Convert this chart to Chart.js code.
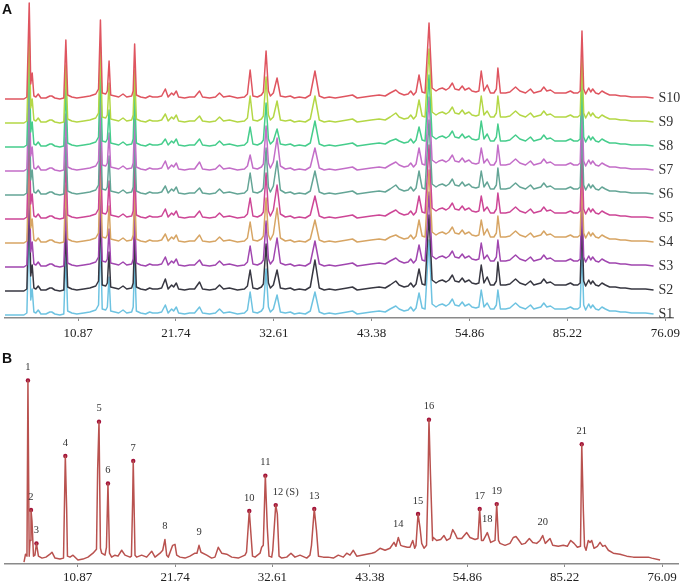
<!DOCTYPE html>
<html><head><meta charset="utf-8">
<script src="https://cdn.jsdelivr.net/npm/chart.js@4.4.0/dist/chart.umd.min.js"></script>
<style>
html,body{margin:0;padding:0;background:#fff;}
#wrap{position:relative;width:685px;height:585px;overflow:hidden;background:#fff;}
.panel{position:absolute;left:0;width:685px;}
#boxA{top:0;height:345px;}
#boxB{top:345px;height:240px;}
.tag{position:absolute;font:bold 14px "Liberation Sans",Arial,sans-serif;color:#111;line-height:14px;}
</style></head>
<body><div id="wrap">
<div class="panel" id="boxA"><canvas id="chartA"></canvas></div>
<div class="panel" id="boxB"><canvas id="chartB"></canvas></div>
<div class="tag" style="left:2px;top:2px">A</div>
<div class="tag" style="left:2px;top:351px">B</div>
</div>
<script>
// ---- x axis ticks (retention time, min) ----
const tickValues = [10.87, 21.74, 32.61, 43.48, 54.35, 65.22, 76.09];
const tickLabels = ['10.87', '21.74', '32.61', '43.38', '54.86', '85.22', '76.09'];

// ---- Panel A: ten sample chromatograms ----
const sampleNames = ['S1','S2','S3','S4','S5','S6','S7','S8','S9','S10'];
const retentionTimesA = [2.75,4.85,5.18,5.44,5.61,5.77,5.96,6.18,6.44,6.74,
7.29,7.73,7.95,8.29,8.84,9.28,9.51,9.71,10.17,10.73,
11.50,12.17,12.83,13.14,13.35,13.55,13.94,14.12,14.31,14.49,
14.94,15.38,15.86,16.27,16.82,16.99,17.15,17.34,17.82,18.37,
18.82,19.15,19.70,20.15,20.56,20.87,21.26,21.48,21.78,22.03,
22.70,23.25,23.81,24.36,24.69,25.47,26.13,26.58,27.02,27.68,
28.57,29.35,29.68,29.98,30.29,30.79,31.23,31.45,31.75,32.01,
32.23,32.56,32.97,33.34,33.89,34.45,34.89,35.44,36.11,36.66,
37.18,37.66,38.21,38.77,39.43,40.10,40.76,41.35,41.87,42.65,
43.42,44.31,44.98,45.53,46.16,46.53,47.08,47.53,47.82,48.13,
48.41,48.74,49.08,49.41,49.85,50.19,50.63,50.96,51.33,51.74,
52.07,52.44,52.73,53.18,53.54,53.84,54.29,54.62,55.06,55.39,
55.65,55.95,56.31,56.67,57.06,57.33,57.50,57.78,58.35,58.83,
59.46,59.94,60.57,61.12,61.49,61.86,62.27,62.60,62.93,63.34,
63.82,64.63,65.04,65.56,65.92,66.37,66.64,66.84,67.03,67.25,
67.59,67.81,68.03,68.36,68.70,69.06,69.44,69.91,70.55,71.13,
71.65,72.35,73.13,73.90,74.79];

const S1 = [6,6,10,194,36,58,12,10,16,8, 8,12,12,8,6,8,126,14,10,8, 10,12,16,26,162,18,16,22,82,14, 12,10,16,10,12,22,116,14,10,8, 12,10,10,12,26,10,18,14,22,10, 8,10,10,22,10,8,10,18,10,12, 8,10,16,52,12,10,14,20,98,22, 12,18,46,12,10,12,8,10,8,14, 52,12,8,10,8,10,12,14,8,10, 12,14,12,18,24,18,14,16,22,14, 20,50,20,18,156,28,22,26,28,24, 28,38,26,24,32,24,28,22,20,22, 56,22,30,18,18,26,56,18,18,20, 30,22,18,26,18,20,22,30,22,24, 18,18,18,22,18,18,22,140,26,16, 28,20,26,18,16,22,18,14,14,12, 12,10,10,10,8];
const S2 = [6,6,10,196,36,58,12,10,16,8, 8,12,12,8,6,8,126,14,10,8, 10,12,16,26,164,18,16,22,84,14, 12,10,16,10,12,22,116,14,10,8, 12,10,10,12,30,10,18,14,22,10, 8,10,10,24,10,8,10,18,10,12, 8,10,16,48,12,10,14,20,100,22, 12,18,48,12,10,12,8,10,8,14, 68,12,8,10,8,10,12,14,8,10, 12,14,12,18,26,18,14,16,22,14, 20,50,20,18,158,28,22,26,28,24, 28,38,26,24,32,24,28,22,20,22, 58,22,34,18,18,26,64,18,18,20, 30,22,18,26,18,20,22,30,22,24, 18,18,18,22,18,18,22,142,26,16, 28,20,26,18,16,22,18,14,14,12, 12,10,10,10,8];
const S3 = [6,6,10,190,36,56,12,10,16,8, 8,12,12,8,6,8,124,14,10,8, 10,12,16,26,162,18,16,22,82,14, 12,10,16,10,12,22,114,14,10,8, 12,10,10,12,26,10,18,14,22,10, 8,10,10,20,10,8,10,18,10,12, 8,10,16,48,12,10,14,20,98,22, 12,20,64,14,10,12,8,10,8,14, 58,12,8,10,8,10,12,14,8,10, 12,14,12,18,24,18,14,16,22,14, 20,50,20,18,156,28,22,26,28,24, 28,38,26,24,32,24,28,22,20,22, 54,22,30,18,18,26,60,18,18,20, 30,22,18,26,18,20,22,30,22,24, 18,18,18,22,18,18,22,138,26,16, 28,20,26,18,16,22,18,14,14,12, 12,10,10,10,8];
const S4 = [6,6,10,188,36,54,12,10,16,8, 8,12,12,8,6,8,122,14,10,8, 10,12,16,26,158,18,16,22,80,14, 12,10,16,10,12,22,112,14,10,8, 12,10,10,12,24,10,18,14,22,10, 8,10,10,22,10,8,10,18,10,12, 8,10,16,48,12,10,14,20,96,22, 12,24,76,16,10,12,8,10,8,14, 52,12,8,10,8,10,12,14,8,10, 12,14,12,18,22,18,14,16,22,14, 20,52,20,18,152,28,22,26,28,24, 28,38,26,24,32,24,28,22,20,22, 52,22,34,18,18,26,60,18,18,20, 30,22,18,26,18,20,22,30,22,24, 18,18,18,22,18,18,22,136,26,16, 28,20,26,18,16,22,18,14,14,12, 12,10,10,10,8];
const S5 = [6,6,10,192,36,56,12,10,16,8, 8,12,12,8,6,8,124,14,10,8, 10,12,16,26,160,18,16,22,82,14, 12,10,16,10,12,22,114,14,10,8, 12,10,10,12,26,10,18,14,22,10, 8,10,10,22,10,8,10,18,10,12, 8,10,16,48,12,10,14,20,98,22, 12,24,74,16,10,12,8,10,8,14, 52,12,8,10,8,10,12,14,8,10, 12,14,12,18,24,18,14,16,22,14, 20,52,20,18,154,28,22,26,28,24, 28,38,26,24,32,24,28,22,20,22, 52,22,30,18,18,26,58,18,18,20, 30,22,18,26,18,20,22,30,22,24, 18,18,18,22,18,18,22,138,26,16, 28,20,26,18,16,22,18,14,14,12, 12,10,10,10,8];
const S6 = [6,6,10,194,36,56,12,10,16,8, 8,12,12,8,6,8,122,14,10,8, 10,12,16,26,162,18,16,22,84,14, 12,10,16,10,12,22,116,14,10,8, 12,10,10,12,24,10,18,14,22,10, 8,10,10,20,10,8,10,18,10,12, 8,10,16,50,12,10,14,20,100,22, 12,24,74,16,10,12,8,10,8,14, 54,12,8,10,8,10,12,14,8,10, 12,14,12,18,26,18,14,16,22,14, 20,54,20,18,156,28,22,26,28,24, 28,38,26,24,32,24,28,22,20,22, 54,22,32,18,18,26,60,18,18,20, 30,22,18,26,18,20,22,30,22,24, 18,18,18,22,18,18,22,140,26,16, 28,20,26,18,16,22,18,14,14,12, 12,10,10,10,8];
const S7 = [6,6,10,186,36,54,12,10,16,8, 8,12,12,8,6,8,120,14,10,8, 10,12,16,26,156,18,16,22,82,14, 12,10,16,10,12,22,110,14,10,8, 12,10,10,12,26,10,18,14,22,10, 8,10,10,24,10,8,10,18,10,12, 8,10,16,38,12,10,14,20,96,22, 12,24,72,16,10,12,8,10,8,14, 52,12,8,10,8,10,12,14,8,10, 12,14,12,18,24,18,14,16,22,14, 20,52,20,18,154,28,22,26,28,24, 28,38,26,24,32,24,28,22,20,22, 52,22,30,18,18,26,58,18,18,20, 30,22,18,26,18,20,22,30,22,24, 18,18,18,22,18,18,22,138,26,16, 28,20,26,18,16,22,18,14,14,12, 12,10,10,10,8];
const S8 = [6,6,10,190,36,56,12,10,16,8, 8,12,12,8,6,8,126,14,10,8, 10,12,16,26,160,18,16,22,80,14, 12,10,16,10,12,22,114,14,10,8, 12,10,10,12,22,10,18,14,22,10, 8,10,10,22,10,8,10,18,10,12, 8,10,16,46,12,10,14,20,94,22, 12,18,42,12,10,12,8,10,8,14, 58,12,8,10,8,10,12,14,8,10, 12,14,12,18,22,18,14,16,22,14, 20,46,20,18,150,28,22,26,28,24, 28,38,26,24,32,24,28,22,20,22, 58,22,32,18,18,26,52,18,18,20, 30,22,18,26,18,20,22,30,22,24, 18,18,18,22,18,18,22,134,26,16, 28,20,26,18,16,22,18,14,14,12, 12,10,10,10,8];
const S9 = [6,6,10,186,36,54,12,10,16,8, 8,12,12,8,6,8,122,14,10,8, 10,12,16,26,158,18,16,22,86,14, 12,10,16,10,12,22,112,14,10,8, 12,10,10,12,24,10,18,14,22,10, 8,10,10,20,10,8,10,18,10,12, 8,10,16,60,12,10,14,20,98,22, 12,18,50,12,10,12,8,10,8,14, 60,12,8,10,8,10,12,14,8,10, 12,14,12,18,26,18,14,16,22,14, 20,52,20,18,154,28,22,26,28,24, 28,38,26,24,32,24,28,22,20,22, 60,22,30,18,18,26,60,18,18,20, 30,22,18,26,18,20,22,30,22,24, 18,18,18,22,18,18,22,136,26,16, 28,20,26,18,16,22,18,14,14,12, 12,10,10,10,8];
const S10 = [6,6,10,198,36,58,12,10,16,8, 8,12,12,8,6,8,124,14,10,8, 10,12,16,26,164,18,16,22,82,14, 12,10,16,10,12,22,116,14,10,8, 12,10,10,12,26,10,18,14,22,10, 8,10,10,22,10,8,10,18,10,12, 8,10,16,64,12,10,14,20,102,22, 12,18,48,12,10,12,8,10,8,14, 62,12,8,10,8,10,12,14,8,10, 12,14,12,18,24,18,14,16,22,14, 20,54,20,18,158,28,22,26,28,24, 28,38,26,24,32,24,28,22,20,22, 62,22,34,18,18,26,68,18,18,20, 30,22,18,26,18,20,22,30,22,24, 18,18,18,22,18,18,22,142,26,16, 28,20,26,18,16,22,18,14,14,12, 12,10,10,10,8];
const sampleValues = [S1, S2, S3, S4, S5, S6, S7, S8, S9, S10];

// ---- Panel B: reference fingerprint ----
const retentionTimesB = [4.88,5.05,5.21,5.32,5.46,5.55,5.66,5.77,5.94,6.10,6.27,6.49,6.89,7.33,7.78,8.00,8.34,8.89,9.29,9.49,
9.64,9.73,10.01,10.35,10.90,11.46,12.02,12.58,12.97,13.10,13.25,13.41,13.55,13.92,14.08,14.25,14.42,14.66,15.03,15.37,
15.78,16.15,16.71,16.87,17.01,17.07,17.27,17.45,18.01,18.57,19.13,19.50,20.06,20.36,20.61,20.80,20.98,21.47,21.73,21.92,
22.29,22.85,23.40,23.96,24.18,24.41,24.63,25.27,25.82,26.19,26.56,26.94,27.50,28.06,28.79,29.54,29.71,30.02,30.38,30.66,
31.22,31.40,31.58,31.81,32.03,32.22,32.52,32.64,32.97,33.15,33.34,33.64,34.20,34.67,35.12,35.68,36.43,36.79,36.96,37.27,
37.52,37.74,38.28,38.80,39.40,39.95,40.51,40.89,41.26,41.63,42.01,42.57,43.12,43.68,44.05,44.61,45.17,45.72,46.17,46.39,
46.65,46.92,47.21,47.65,47.95,48.26,48.48,48.62,48.85,49.07,49.26,49.52,49.80,49.96,50.07,50.24,50.47,50.56,50.93,51.38,
51.75,52.05,52.42,52.72,52.98,53.23,53.72,54.28,54.65,55.21,55.54,55.73,55.93,56.13,56.58,56.96,57.44,57.63,57.83,58.00,
58.56,59.11,59.48,59.78,60.04,60.42,60.79,61.27,61.65,62.09,62.46,62.76,63.05,63.58,63.88,64.50,65.06,65.51,65.89,66.26,
66.63,66.98,67.12,67.30,67.43,67.60,67.85,68.04,68.23,68.49,68.86,69.16,69.46,69.72,70.09,70.64,71.39,72.14,72.88,73.62,
74.55,74.93,75.86];
const referenceValues = [2,10,8,187,8,24,55,44,8,9,21,8,6,7,10,12,6,5,6,110,
56,8,7,9,4,5,7,11,15,97,145,16,11,9,17,82,11,7,9,8,
14,9,7,8,67,105,9,7,9,7,13,7,11,14,25,9,7,19,20,9,
7,6,8,11,11,19,12,9,6,7,17,11,10,7,6,9,12,54,8,7,
11,17,19,90,37,8,7,14,60,51,8,6,7,11,7,9,6,9,19,56,
34,8,7,7,6,9,7,11,9,14,8,9,10,11,12,16,14,16,22,18,
27,19,18,17,17,24,16,19,51,37,21,16,19,84,147,91,24,27,24,25,
29,24,26,35,31,26,26,32,27,25,26,56,24,24,32,22,24,61,24,21,
19,21,27,28,25,20,21,26,22,21,24,29,21,26,19,18,19,18,24,21,
17,18,122,54,18,14,24,22,24,16,18,22,18,19,14,11,10,8,7,7,
7,6,4];

// ---- Peak annotations (panel B) ----
const peakLabels = ['1','2','3','4','5','6','7','8','9','10','11','12 (S)','13','14','15','16','17','18','19','20','21'];
const peakTimes = [5.32,5.66,6.27,9.49,13.25,14.25,17.07,20.61,24.41,30.02,31.81,32.97,37.27,46.65,48.85,50.07,55.73,56.58,57.63,62.76,67.12];
const peakHeights = [187,55,21,110,145,82,105,25,19,54,90,60,56,27,51,147,56,32,61,29,122];
const markedPeaks = ['1','2','3','4','5','6','7','10','11','12 (S)','13','15','16','17','19','21'];

// ---- styling ----
const sampleColors = ['#6ec3e1','#373741','#a046af','#d7a564','#cd4696','#64a596','#c36ec8','#46cd8c','#b4d746','#df5560'];
const stackStep = 48;
const serif = '"Liberation Serif", "DejaVu Serif", serif';

function xAxis(min, max, axisHeight, pad) {
  return {
    type: 'linear', min: min, max: max,
    afterBuildTicks: (axis) => { axis.ticks = tickValues.map(v => ({ value: v })); },
    afterFit: (axis) => { axis.height = axisHeight; },
    ticks: {
      autoSkip: false, maxRotation: 0, padding: pad, color: '#222',
      font: { family: serif, size: 13 },
      callback: (v) => { const i = tickValues.indexOf(v); return i >= 0 ? tickLabels[i] : ''; }
    },
    grid: { display: true, drawOnChartArea: false, drawTicks: true, tickLength: 3, color: '#8a8a8a' },
    border: { display: true, color: '#8a8a8a', width: 1.5 }
  };
}

const sampleLabelPlugin = {
  id: 'sampleLabels',
  afterDatasetsDraw(chart) {
    const ctx = chart.ctx;
    ctx.save();
    ctx.font = '14px ' + serif;
    ctx.fillStyle = '#333';
    ctx.textBaseline = 'middle';
    ctx.textAlign = 'left';
    chart.data.datasets.forEach((ds, i) => {
      const meta = chart.getDatasetMeta(i);
      const pt = meta.data[meta.data.length - 1];
      ctx.fillText(ds.label, pt.x + 5, pt.y);
    });
    ctx.restore();
  }
};

const peakLabelPlugin = {
  id: 'peakLabels',
  afterDatasetsDraw(chart) {
    const meta = chart.getDatasetMeta(1);
    const ctx = chart.ctx;
    ctx.save();
    ctx.font = '10.5px ' + serif;
    ctx.fillStyle = '#333';
    ctx.textBaseline = 'middle';
    meta.data.forEach((el, k) => {
      const txt = peakLabels[k];
      const wide = txt.length > 2;
      ctx.textAlign = wide ? 'left' : 'center';
      ctx.fillText(txt, wide ? el.x - 3 : el.x, el.y - 13);
    });
    ctx.restore();
  }
};

new Chart(document.getElementById('chartA'), {
  type: 'line',
  data: {
    datasets: sampleNames.map((name, i) => ({
      label: name,
      data: retentionTimesA.map((t, k) => ({ x: t, y: sampleValues[i][k] + i * stackStep })),
      borderColor: sampleColors[i],
      borderWidth: 1.5,
      borderJoinStyle: 'round',
      pointRadius: 0,
      tension: 0,
      fill: false,
      order: 9 - i
    }))
  },
  options: {
    responsive: true, maintainAspectRatio: false, animation: false,
    layout: { padding: { left: 5, right: 10, top: 0, bottom: 0 } },
    plugins: { legend: { display: false }, tooltip: { enabled: false } },
    scales: {
      x: xAxis(2.75, 77.0, 27, 5),
      y: { display: false, min: 0, max: 636 }
    }
  },
  plugins: [sampleLabelPlugin]
});

new Chart(document.getElementById('chartB'), {
  type: 'line',
  data: {
    datasets: [
      {
        label: 'Reference',
        data: retentionTimesB.map((t, k) => ({ x: t, y: referenceValues[k] })),
        borderColor: '#b9524f',
        borderWidth: 1.5,
        borderJoinStyle: 'round',
        pointRadius: 0,
        tension: 0,
        fill: false
      },
      {
        label: 'Peaks',
        data: peakTimes.map((t, k) => ({ x: t, y: peakHeights[k] })),
        showLine: false,
        pointRadius: peakLabels.map(p => markedPeaks.includes(p) ? 2.2 : 0),
        pointBackgroundColor: '#a3123a',
        pointBorderWidth: 0
      }
    ]
  },
  options: {
    responsive: true, maintainAspectRatio: false, animation: false,
    layout: { padding: { left: 5, right: 7, top: 0, bottom: 0 } },
    plugins: { legend: { display: false }, tooltip: { enabled: false } },
    scales: {
      x: xAxis(2.76, 77.86, 21, 3),
      y: { display: false, min: 0, max: 219 }
    }
  },
  plugins: [peakLabelPlugin]
});
</script>
</body></html>
